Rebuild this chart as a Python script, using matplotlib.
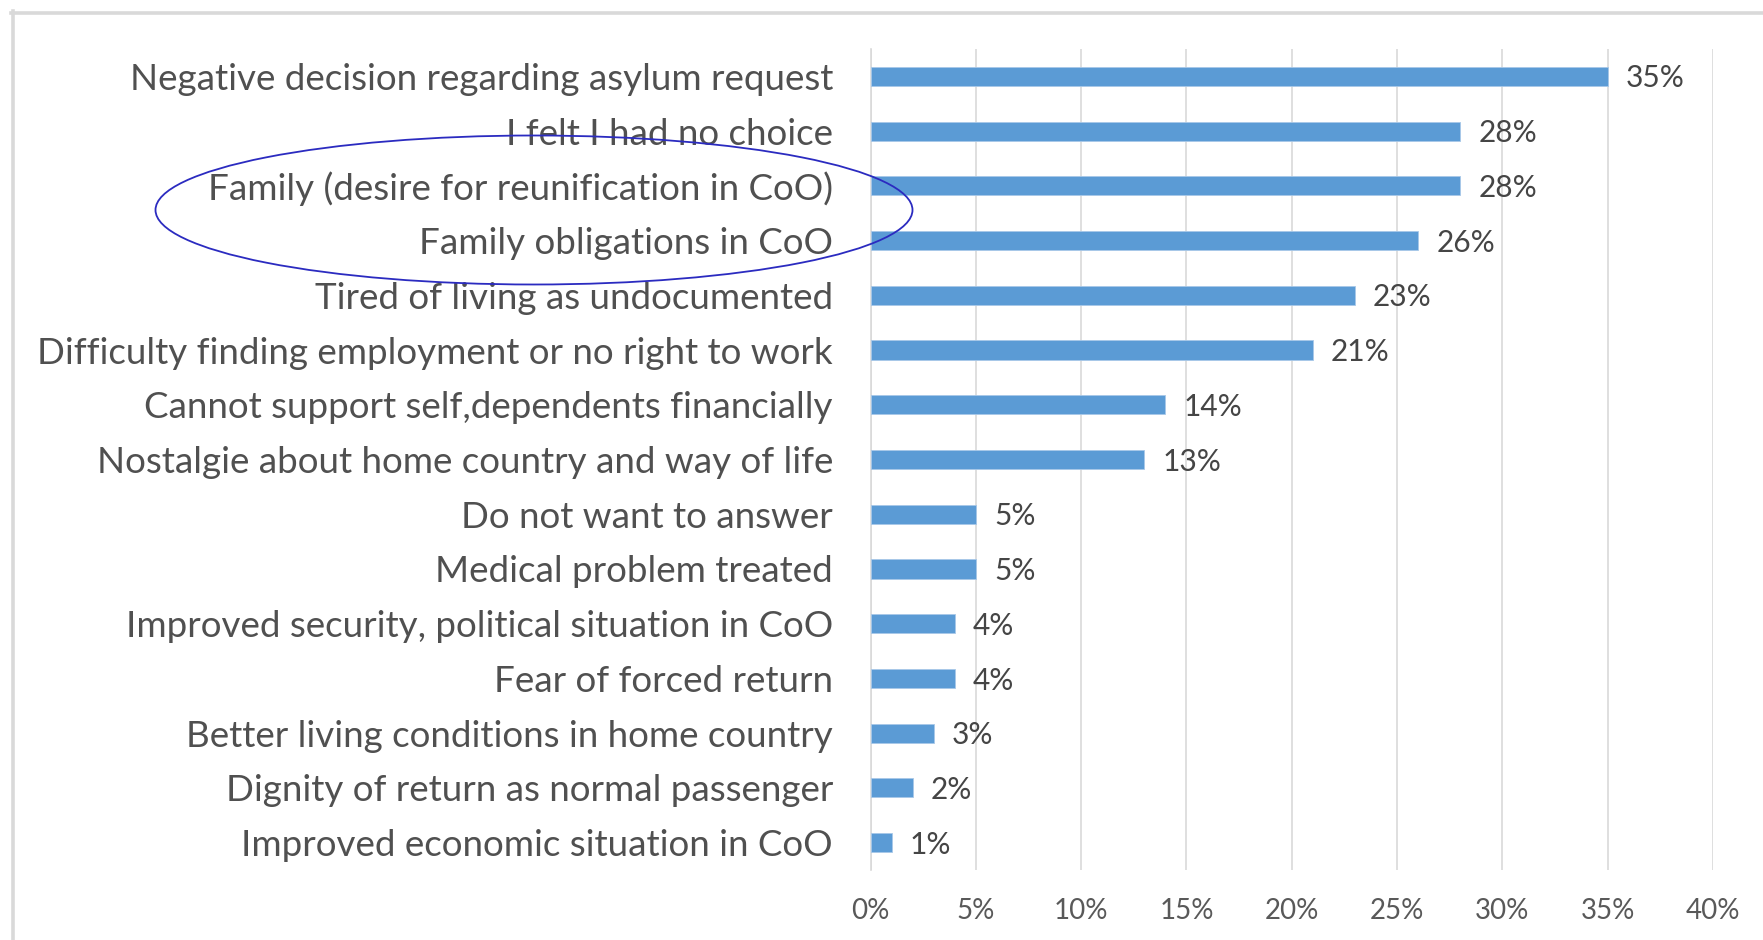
import matplotlib
matplotlib.use("Agg")
import matplotlib.pyplot as plt
from matplotlib.patches import Ellipse
from matplotlib.lines import Line2D

# reasons for return, top to bottom
reasons = [
    "Negative decision regarding asylum request",
    "I felt I had no choice",
    "Family (desire for reunification in CoO)",
    "Family obligations in CoO",
    "Tired of living as undocumented",
    "Difficulty finding employment or no right to work",
    "Cannot support self,dependents financially",
    "Nostalgie about home country and way of life",
    "Do not want to answer",
    "Medical problem treated",
    "Improved security, political situation in CoO",
    "Fear of forced return",
    "Better living conditions in home country",
    "Dignity of return as normal passenger",
    "Improved economic situation in CoO",
]
shares = [35, 28, 28, 26, 23, 21, 14, 13, 5, 5, 4, 4, 3, 2, 1]
xticks = [0, 5, 10, 15, 20, 25, 30, 35, 40]

W, H = 1763, 940
plt.rcParams['font.family'] = ['Lato', 'DejaVu Sans']

fig = plt.figure(figsize=(W / 100, H / 100), dpi=100)
ax = fig.add_axes([870.5 / W, 1 - 870 / H, (1713 - 870.5) / W, (870 - 49) / H])

ypos = list(range(len(reasons)))
ax.barh(ypos, shares, height=0.35, color='#5b9bd5', edgecolor='#a8c8e8',
        linewidth=0.6, zorder=3)
for y, v in zip(ypos, shares):
    ax.annotate(f"{v}%", (v, y), xytext=(13, -1.5), textcoords='offset points',
                va='center', ha='left', fontsize=21.5, color='#454545')

ax.set_xlim(0, 40)
ax.set_ylim(len(reasons) - 0.5, -0.5)
ax.set_xticks(xticks)
ax.set_xticklabels([f"{t}%" for t in xticks])
ax.set_yticks(ypos)
ax.set_yticklabels(reasons)
ax.tick_params(axis='y', length=0, pad=27, labelsize=26.5, labelcolor='#505050')
ax.tick_params(axis='x', length=0, pad=20, labelsize=20, labelcolor='#595959')
ax.grid(axis='x', color='#d9d9d9', linewidth=1.2, zorder=0)
for s in ['top', 'right', 'bottom']:
    ax.spines[s].set_visible(False)
ax.spines['left'].set_color('#d9d9d9')
ax.spines['left'].set_linewidth(1.2)

# hand-drawn ellipse around the family reasons
fig.add_artist(Ellipse((534 / W, 1 - 210 / H), 757 / W, 149 / H,
                       transform=fig.transFigure, fill=False,
                       edgecolor='#2b2bc0', linewidth=1.3, zorder=10))

# partial frame (left and top edges)
fig.add_artist(Line2D([12.8 / W, 12.8 / W], [0, 1 - 11 / H], transform=fig.transFigure,
                      color='#d9d9d9', linewidth=2.6))
fig.add_artist(Line2D([11 / W, 1], [1 - 12.8 / H, 1 - 12.8 / H], transform=fig.transFigure,
                      color='#d9d9d9', linewidth=2.6))

fig.savefig("out.png", dpi=100)
